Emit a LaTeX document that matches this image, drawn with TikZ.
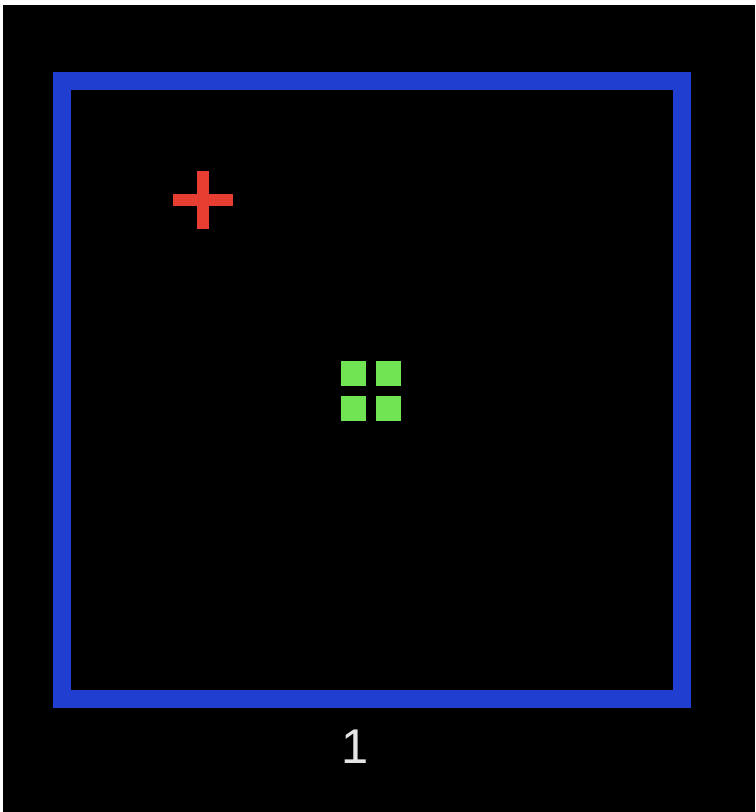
\documentclass[tikz,border=0pt]{standalone}
\usepackage{fontspec}
\setmainfont{Liberation Sans}
\definecolor{boxblue}{RGB}{32,62,208}
\definecolor{crossred}{RGB}{232,62,50}
\definecolor{dotgreen}{RGB}{112,228,82}
\definecolor{labelgray}{RGB}{228,228,228}
\begin{document}
\begin{tikzpicture}[x=0.5pt,y=-0.5pt]
\fill[white] (0,0) rectangle (755,812);
\fill[black] (3,5) rectangle (755,812);
\node[draw=boxblue, line width=9pt, inner sep=0pt,
  minimum width=309.75pt, minimum height=308.75pt] (frame) at (371.75,389.75) {};
\node[anchor=base, text=labelgray, inner sep=0pt,
  font=\fontsize{24.4}{24.4}\selectfont] (num) at (355,763) {1};
\coordinate (cross) at (203,200.5);
\draw[crossred, line width=6pt] ([xshift=-15pt]cross) -- ([xshift=15pt]cross)
  ([yshift=14.5pt]cross) -- ([yshift=-14.5pt]cross);
\foreach \x in {341,376}
  \foreach \y in {361,396}
    \fill[dotgreen] (\x,\y) rectangle ++(25,25);
\end{tikzpicture}
\end{document}
